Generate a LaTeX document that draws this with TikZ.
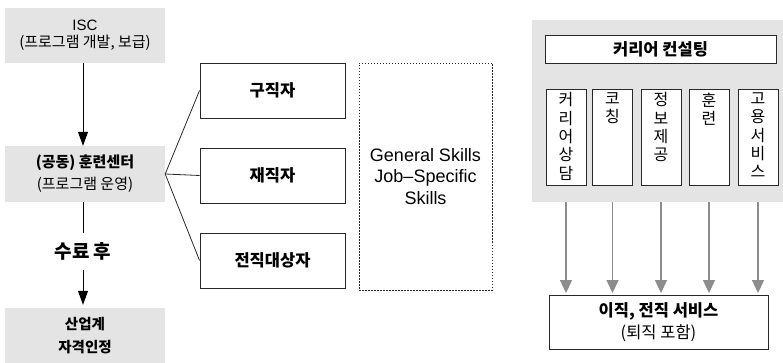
\documentclass[tikz,border=0pt]{standalone}
\usepackage{fontspec}
\setmainfont{Noto Sans CJK KR}
\newfontfamily\lat{Liberation Sans}
\usetikzlibrary{arrows.meta,positioning,calc}
\definecolor{panel}{RGB}{228,228,228}
\definecolor{edge}{RGB}{40,40,40}
\definecolor{arrowgray}{RGB}{140,140,140}
\newcommand{\fs}[2]{\fontsize{#1}{#2}\selectfont}
\tikzset{
  graybox/.style={fill=panel, draw=none, minimum width=160, align=center, inner sep=0},
  whitebox/.style={draw=edge, line width=0.9pt, fill=white, inner sep=0, align=center},
  vbox/.style={whitebox, minimum width=40, minimum height=96},
  vtext/.style={anchor=north, inner sep=0, align=center, font=\fs{16}{18.3}},
  blackarrow/.style={line width=0.8pt, -{Triangle[width=10pt,length=14pt]}},
  grayarrow/.style={draw=arrowgray, line width=1.2pt, -{Triangle[width=12pt,length=13pt]}},
  fanline/.style={draw=edge, line width=0.8pt}
}
\begin{document}
\begin{tikzpicture}[x=1pt,y=-1pt]
\useasboundingbox (0,0) rectangle (783,363);

% left column: programme flow
\node[graybox, minimum height=55, font=\fs{15}{17}] (isc) at (85,35.5)
  {{\lat ISC}\\(프로그램 개발, 보급)};
\node[graybox, minimum height=56, font=\fs{15}{22}] (ctr) at (85,174)
  {\textbf{(공동) 훈련센터}\\(프로그램 운영)};
\node[graybox, minimum height=55, font=\fs{14.5}{23}\bfseries] (cert) at (85,335.5)
  {산업계\\자격인정};
\node[inner sep=0, minimum height=37, font=\fs{19}{22}\bfseries] (done) at (83,251.5) {수료 후};

\draw[blackarrow] ([xshift=-2]isc.south) -- ([xshift=-2]ctr.north);
\draw[line width=0.8pt] ([xshift=-2]ctr.south) -- (done.north);
\draw[blackarrow, shorten >=3pt] (done.south) -- (done.south |- cert.north);

% target groups
\node[whitebox, minimum width=145, minimum height=55, font=\fs{16.5}{20}\bfseries] (seek) at (272.5,90.5) {구직자};
\node[whitebox, minimum width=145, minimum height=55, font=\fs{16.5}{20}\bfseries] (empl) at (272.5,175.5) {재직자};
\node[whitebox, minimum width=145, minimum height=55, font=\fs{16.5}{20}\bfseries] (trans) at (272.5,260.5) {전직대상자};

\draw[fanline] (ctr.east) -- (seek.west);
\draw[fanline] (ctr.east) -- (empl.west);
\draw[fanline] (ctr.east) -- (trans.west);

% skills box
\node[draw=edge, dashed, dash pattern=on 1.5pt off 1.5pt, line width=0.6pt,
      minimum width=133, minimum height=227, inner sep=0, align=center,
      font=\lat\fs{18}{21.5}] (skills) at (425.5,176.5)
  {General Skills\\Job{\textendash}Specific\\Skills};

% right side: career consulting
\node[fill=panel, minimum width=251, minimum height=182, inner sep=0] (cons) at (657.5,111) {};
\node[whitebox, minimum width=231, minimum height=28, font=\fs{16.5}{20}\bfseries] (title) at (660.5,49) {커리어 컨설팅};

\node[vbox] (v1) at (566,137) {};
\node[vbox] (v2) at (612.5,137) {};
\node[vbox] (v3) at (661,137) {};
\node[vbox] (v4) at (709,137) {};
\node[vbox] (v5) at (758,137) {};
\node[vtext] (t1) at ([yshift=-4]v1.north) {커\\리\\어\\상\\담};
\node[vtext] (t2) at ([yshift=-4]v2.north) {코\\칭};
\node[vtext] (t3) at ([yshift=-4]v3.north) {정\\보\\제\\공};
\node[vtext] (t4) at ([yshift=-4]v4.north) {훈\\련};
\node[vtext] (t5) at ([yshift=-4]v5.north) {고\\용\\서\\비\\스};

\node[whitebox, minimum width=219, minimum height=54, font=\fs{16.5}{22}] (out) at (658.5,322)
  {\textbf{이직, 전직 서비스}\\(퇴직 포함)};

\foreach \v in {v1,v2,v3,v4,v5}
  \draw[grayarrow, shorten >=1.5pt] (\v |- cons.south) -- (\v |- out.north);
\end{tikzpicture}
\end{document}
